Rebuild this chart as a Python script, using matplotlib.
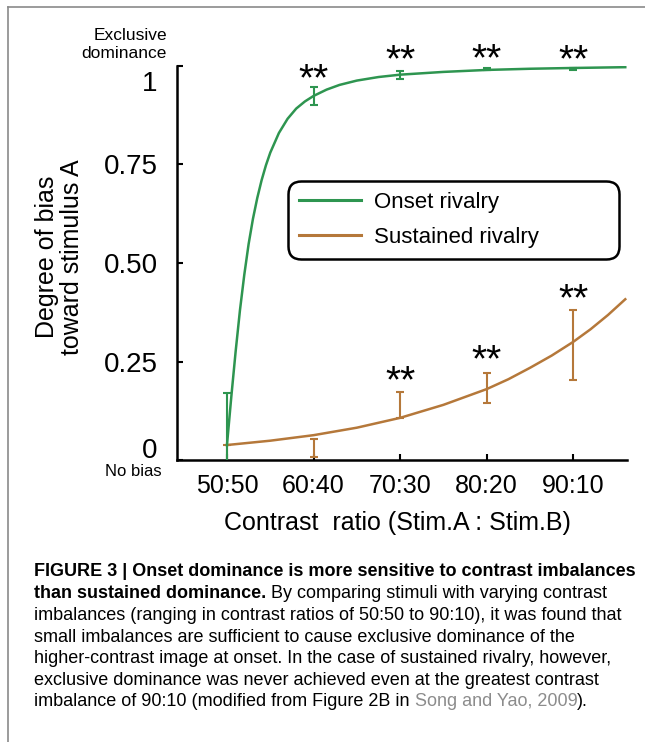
import matplotlib
matplotlib.use("Agg")
import matplotlib.pyplot as plt
from matplotlib.transforms import ScaledTranslation
import numpy as np

plt.rcParams['font.family'] = ['Liberation Sans', 'DejaVu Sans']

# contrast ratios on the x axis
ratios = ['50:50', '60:40', '70:30', '80:20', '90:10']
pos = np.arange(len(ratios))

onset_mean = [0.038, 0.924, 0.977, 0.992, 0.993]
onset_err = [0.133, 0.023, 0.011, 0.003, 0.003]
sust_mean = [0.038, 0.030, 0.106, 0.183, 0.292]
sust_err_lo = [0.06, 0.023, 0.0, 0.038, 0.089]
sust_err_hi = [0.0, 0.023, 0.066, 0.039, 0.089]

# fitted curves
onset_fit_x = [0, 0.05, 0.1, 0.15, 0.2, 0.25, 0.3, 0.35, 0.4, 0.45, 0.5, 0.6,
               0.7, 0.8, 0.9, 1.0, 1.15, 1.3, 1.5, 1.75, 2.0, 2.5, 3.0, 3.5,
               4.0, 4.6]
onset_fit_y = [0.038, 0.16, 0.275, 0.38, 0.47, 0.548, 0.612, 0.665, 0.71,
               0.748, 0.78, 0.83, 0.866, 0.892, 0.91, 0.924, 0.94, 0.952,
               0.963, 0.972, 0.978, 0.985, 0.99, 0.993, 0.995, 0.997]
sust_fit_x = [0, 0.5, 1.0, 1.5, 2.0, 2.5, 3.0, 3.25, 3.5, 3.75, 4.0, 4.2,
              4.4, 4.6]
sust_fit_y = [0.038, 0.049, 0.063, 0.082, 0.107, 0.14, 0.18, 0.205, 0.234,
              0.265, 0.30, 0.332, 0.368, 0.408]

# significance marks (x index, y)
stars_onset = [(1, 0.964), (2, 1.012), (3, 1.014), (4, 1.012)]
stars_sust = [(2, 0.198), (3, 0.25), (4, 0.406)]

yticks = [0, 0.25, 0.5, 0.75, 1]
yticklabels = ['0', '0.25', '0.50', '0.75', '1']

green = '#2e9550'
brown = '#b5783a'

W, H = 645, 742
fig = plt.figure(figsize=(W / 100, H / 100), dpi=100)
fig.patch.set_facecolor('white')

ax = fig.add_axes([177 / W, (H - 460) / H, 450 / W, 394 / H])

ax.plot(sust_fit_x, sust_fit_y, color=brown, lw=1.8, label='Sustained rivalry', zorder=2)
ax.plot(onset_fit_x, onset_fit_y, color=green, lw=1.8, label='Onset rivalry', zorder=3)
ax.errorbar(pos, sust_mean, yerr=[sust_err_lo, sust_err_hi], fmt='none',
            ecolor=brown, elinewidth=1.5, capsize=2.8, capthick=1.5, zorder=2)
ax.errorbar(pos, onset_mean, yerr=onset_err, fmt='none',
            ecolor=green, elinewidth=1.5, capsize=2.8, capthick=1.5, zorder=3)

for x, y in stars_onset + stars_sust:
    ax.text(x, y, '**', ha='center', va='center', fontsize=28, clip_on=False)

ax.set_xlim(-0.577, 4.62)
ax.set_ylim(0, 1)
ax.set_xticks(pos)
ax.set_xticklabels(ratios, fontsize=18)
ax.set_yticks(yticks)
ax.set_yticklabels(yticklabels, fontsize=20)
ax.tick_params(axis='x', direction='in', length=4, width=1.5, pad=10)
ax.tick_params(axis='y', direction='in', length=4, width=1.5, pad=14)
for s in ['top', 'right']:
    ax.spines[s].set_visible(False)
for s in ['left', 'bottom']:
    ax.spines[s].set_linewidth(1.8)

# end labels sit a bit inside
yt = ax.yaxis.get_major_ticks()
yt[-1].label1.set_transform(yt[-1].label1.get_transform() + ScaledTranslation(0, -0.15, fig.dpi_scale_trans))
yt[0].label1.set_transform(yt[0].label1.get_transform() + ScaledTranslation(0, 0.12, fig.dpi_scale_trans))

ax.set_xlabel('Contrast  ratio (Stim.A : Stim.B)', fontsize=18)
ax.xaxis.set_label_coords((397 - 177) / 450, -(511 - 460) / 394)
ax.set_ylabel('Degree of bias\ntoward stimulus A', fontsize=18, linespacing=1.05)
ax.yaxis.set_label_coords(-(177 - 84) / 450, (460 - 257) / 394)

h, l = ax.get_legend_handles_labels()
leg = ax.legend(h[::-1], l[::-1], loc='upper left',
                bbox_to_anchor=((288 - 177) / 450, (460 - 185) / 394, (619 - 288) / 450, 0.01),
                mode='expand', fontsize=16, handlelength=2.8, handletextpad=0.55,
                labelspacing=0.62, borderpad=0.5, borderaxespad=0, fancybox=True,
                framealpha=1)
leg.get_frame().set_edgecolor('black')
leg.get_frame().set_linewidth(1.8)
leg.get_frame().set_boxstyle('round', pad=0, rounding_size=0.6)
for ln in leg.get_lines():
    ln.set_linewidth(2.2)

# overlay axes for free-floating text in pixel terms
cap = fig.add_axes([0, 0, 1, 1], zorder=-1)
cap.set_xlim(0, W)
cap.set_ylim(H, 0)
cap.axis('off')

cap.text(167, 45, 'Exclusive\ndominance', ha='right', va='center', fontsize=12.5, linespacing=1.25)
cap.text(162, 472, 'No bias', ha='right', va='center', fontsize=12)

# outer frame
cap.plot([8, 8], [H, 7], color='#8a8a8a', lw=1.2)
cap.plot([8, W], [7, 7], color='#8a8a8a', lw=1.2)

# caption
cap_y = [572, 593.7, 615.3, 637, 658.7, 680.3, 702]
cap_x = 34
fs = 13
cap.text(cap_x, cap_y[0], 'FIGURE 3 | Onset dominance is more sensitive to contrast imbalances',
         fontsize=fs, fontweight='bold', va='center')
t2 = cap.text(cap_x, cap_y[1], 'than sustained dominance.', fontsize=fs, fontweight='bold', va='center')
cap.annotate(' By comparing stimuli with varying contrast', xy=(1, 0), xycoords=t2,
             fontsize=fs, va='bottom')
cap.text(cap_x, cap_y[2], 'imbalances (ranging in contrast ratios of 50:50 to 90:10), it was found that',
         fontsize=fs, va='center')
cap.text(cap_x, cap_y[3], 'small imbalances are sufficient to cause exclusive dominance of the',
         fontsize=fs, va='center')
cap.text(cap_x, cap_y[4], 'higher-contrast image at onset. In the case of sustained rivalry, however,',
         fontsize=fs, va='center')
cap.text(cap_x, cap_y[5], 'exclusive dominance was never achieved even at the greatest contrast',
         fontsize=fs, va='center')
t7 = cap.text(cap_x, cap_y[6], 'imbalance of 90:10 (modified from Figure 2B in', fontsize=fs, va='center')
t8 = cap.annotate(' Song and Yao, 2009', xy=(1, 0), xycoords=t7, fontsize=fs, va='bottom',
                  color='#8c8c8c')
cap.annotate(').', xy=(1, 0), xycoords=t8, fontsize=fs, va='bottom')

fig.savefig('out.png', dpi=100, facecolor='white')
